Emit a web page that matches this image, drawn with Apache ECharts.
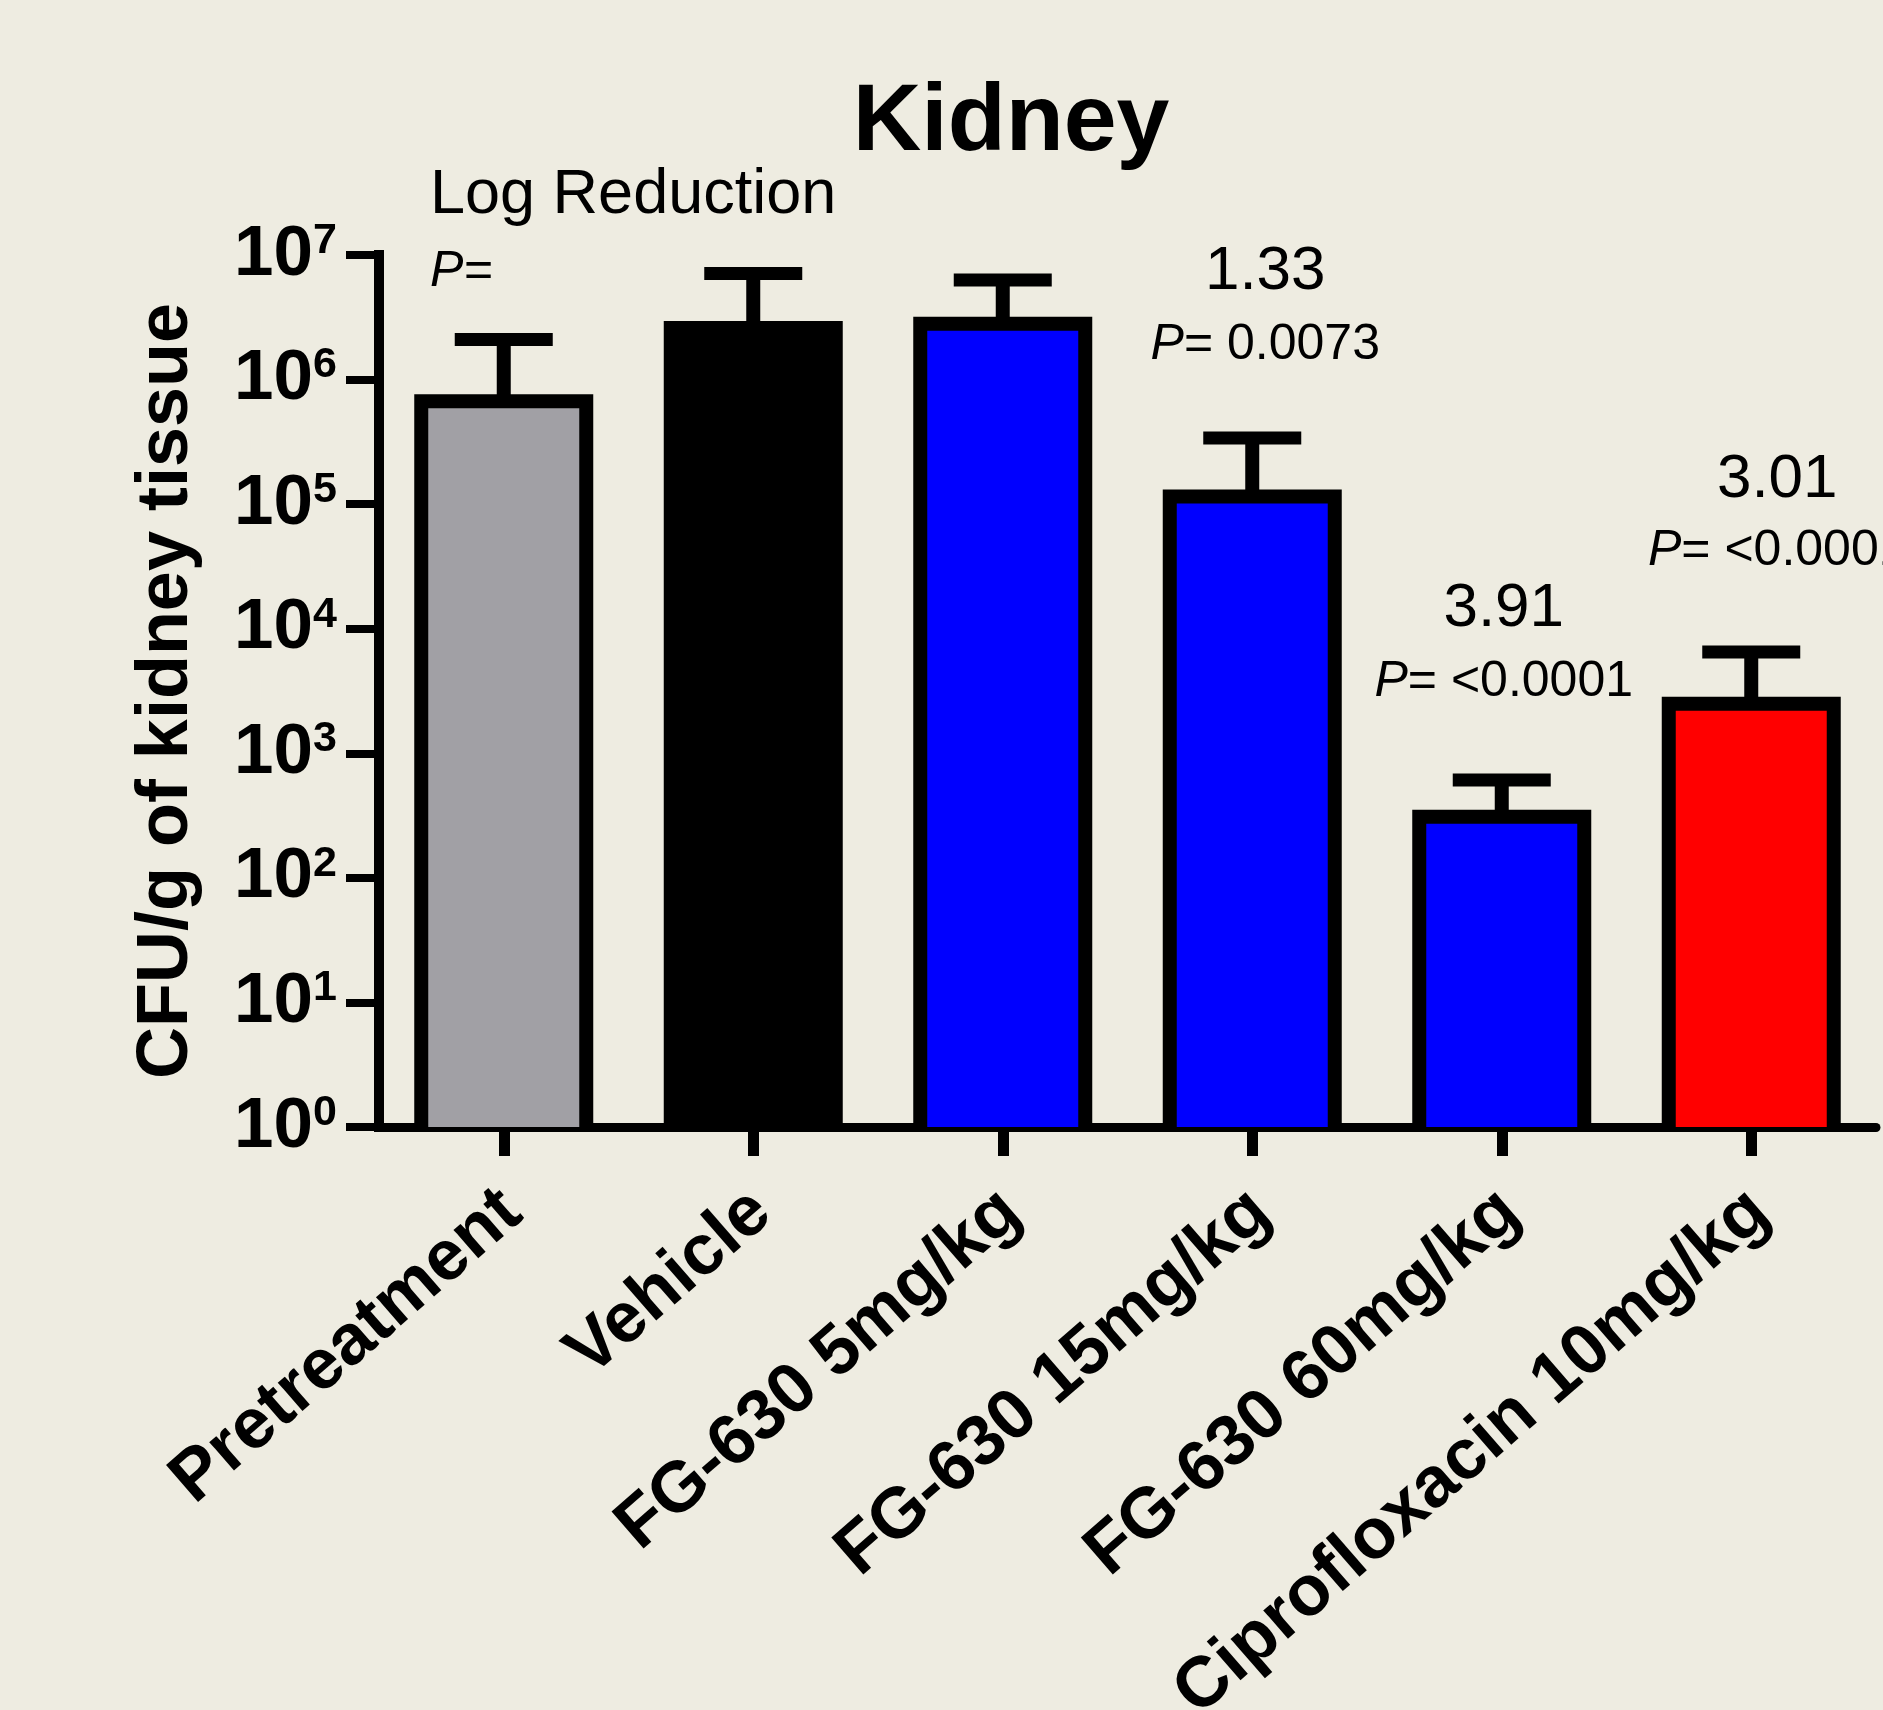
<!DOCTYPE html>
<html>
<head>
<meta charset="utf-8">
<script src="https://cdn.jsdelivr.net/npm/echarts@6/dist/echarts.min.js"></script>
<style>
html,body{margin:0;padding:0;background:#EEECE1;}
#c{width:1883px;height:1710px;}
</style>
</head>
<body>
<div id="c"></div>
<script>
// ---- data ----
const categories = ['Pretreatment', 'Vehicle', 'FG-630 5mg/kg', 'FG-630 15mg/kg', 'FG-630 60mg/kg', 'Ciprofloxacin 10mg/kg'];
const meanCFU = [6.7e5, 2.6e6, 2.8e6, 1.15e5, 310, 2500];
const upperCFU = [2.1e6, 7.1e6, 6.3e6, 3.4e5, 610, 6500];
const barColors = ['#A1A0A5', '#000000', '#0000FF', '#0000FF', '#0000FF', '#FF0000'];
const yTickExponents = [0, 1, 2, 3, 4, 5, 6, 7];
const logReduction = ['', '', '', '1.33', '3.91', '3.01'];
const pValues = ['', '', '', '0.0073', '<0.0001', '<0.0001'];
const titleText = 'Kidney';
const yAxisTitle = 'CFU/g of kidney tissue';
const headerText = 'Log Reduction';

// ---- layout ----
const FONT = '"Liberation Sans", Arial, Helvetica, sans-serif';
const BAR_W = 165, BORDER = 14, CAP_HALF = 49;
const annLayout = {
  dx: [0, 0, 0, 13, 2, 26],
  yLR: [0, 0, 0, 272, 609, 480],
  yP: [0, 0, 0, 345, 682, 551]
};

const chart = echarts.init(document.getElementById('c'), null, {renderer: 'canvas'});

const option = {
  backgroundColor: '#EEECE1',
  animation: false,
  grid: {left: 379, right: 7, top: 255, bottom: 583, containLabel: false, outerBoundsMode: 'none'},
  xAxis: {
    type: 'category',
    data: categories,
    boundaryGap: true,
    axisLine: {show: true, onZero: false, lineStyle: {color: '#000', width: 9}},
    axisTick: {show: true, alignWithLabel: true, length: 29, lineStyle: {color: '#000', width: 11}},
    axisLabel: {
      interval: 0, rotate: 41, margin: 66,
      formatter: function (v) { return '{t|' + v + '}'; },
      rich: {t: {padding: [26, 0, 0, 0], fontSize: 71, fontWeight: 'bold', color: '#000', fontFamily: FONT}},
      fontSize: 71, fontWeight: 'bold', color: '#000', fontFamily: FONT
    },
    splitLine: {show: false}
  },
  yAxis: {
    type: 'log',
    logBase: 10,
    min: Math.pow(10, yTickExponents[0]),
    max: Math.pow(10, yTickExponents[yTickExponents.length - 1]),
    splitNumber: yTickExponents.length - 1,
    name: yAxisTitle,
    nameLocation: 'middle',
    nameRotate: 90,
    nameGap: 176,
    nameTextStyle: {fontSize: 72, fontWeight: 'bold', color: '#000', fontFamily: FONT},
    axisLine: {show: true, lineStyle: {color: '#000', width: 10, cap: 'square'}},
    axisTick: {show: true, length: 33, lineStyle: {color: '#000', width: 8}},
    splitLine: {show: false},
    axisLabel: {
      margin: 42,
      showMinLabel: true,
      showMaxLabel: true,
      formatter: function (v) {
        return '{b|10}{s|' + Math.round(Math.log10(v)) + '}';
      },
      rich: {
        b: {fontSize: 71, fontWeight: 'bold', color: '#000', fontFamily: FONT, lineHeight: 71},
        s: {fontSize: 43, fontWeight: 'bold', color: '#000', fontFamily: FONT, lineHeight: 43, verticalAlign: 'top'}
      }
    }
  },
  series: [
    {
      type: 'custom',
      name: 'CFU',
      z: 2,
      data: categories.map(function (c, i) { return [i, meanCFU[i]]; }),
      encode: {x: 0, y: 1},
      renderItem: function (params, api) {
        const i = api.value(0);
        const top = api.coord([i, api.value(1)]);
        const base = api.coord([i, Math.pow(10, yTickExponents[0])]);
        const l = top[0] - BAR_W / 2, r = top[0] + BAR_W / 2;
        return {
          type: 'group',
          children: [
            {type: 'rect', shape: {x: l, y: top[1], width: BAR_W, height: base[1] - top[1]},
             style: {fill: barColors[params.dataIndex]}},
            {type: 'polyline', shape: {points: [[l, base[1]], [l, top[1]], [r, top[1]], [r, base[1]]]},
             style: {stroke: '#000', lineWidth: BORDER, fill: null, lineJoin: 'miter', lineCap: 'butt'}}
          ]
        };
      }
    },
    {
      type: 'custom',
      name: 'SD',
      z: 3,
      data: categories.map(function (c, i) { return [i, meanCFU[i], upperCFU[i]]; }),
      encode: {x: 0, y: [1, 2]},
      renderItem: function (params, api) {
        const i = api.value(0);
        const p0 = api.coord([i, api.value(1)]);
        const p1 = api.coord([i, api.value(2)]);
        return {
          type: 'group',
          children: [
            {type: 'line', shape: {x1: p0[0], y1: p0[1], x2: p0[0], y2: p1[1]}, style: {stroke: '#000', lineWidth: 14}},
            {type: 'line', shape: {x1: p0[0] - CAP_HALF, y1: p1[1], x2: p0[0] + CAP_HALF, y2: p1[1]}, style: {stroke: '#000', lineWidth: 13}}
          ]
        };
      }
    }
  ]
};

chart.setOption(option);

// ---- annotations ----
const graphics = [];
graphics.push({
  type: 'text', x: 1011, y: 124, z: 10,
  style: {text: titleText, fontSize: 95, fontWeight: 'bold', fill: '#000', fontFamily: FONT, align: 'center', verticalAlign: 'middle'}
});
graphics.push({
  type: 'text', x: 430, y: 196, z: 10,
  style: {text: headerText, fontSize: 63, fill: '#000', fontFamily: FONT, align: 'left', verticalAlign: 'middle'}
});
graphics.push({
  type: 'text', x: 430, y: 272, z: 10,
  style: {text: 'P=', fontSize: 50, fontStyle: 'italic', fill: '#000', fontFamily: FONT, align: 'left', verticalAlign: 'middle'}
});
categories.forEach(function (c, i) {
  if (!logReduction[i]) return;
  const cx = chart.convertToPixel({xAxisIndex: 0}, c) + annLayout.dx[i];
  graphics.push({
    type: 'text', x: cx, y: annLayout.yLR[i], z: 10,
    style: {text: logReduction[i], fontSize: 62, fill: '#000', fontFamily: FONT, align: 'center', verticalAlign: 'middle'}
  });
  graphics.push({
    type: 'text', x: cx, y: annLayout.yP[i], z: 10,
    style: {
      text: '{i|P}{n|= ' + pValues[i] + '}',
      align: 'center', verticalAlign: 'middle',
      rich: {
        i: {fontSize: 50, fontStyle: 'italic', fill: '#000', color: '#000', fontFamily: FONT},
        n: {fontSize: 50, fill: '#000', color: '#000', fontFamily: FONT}
      }
    }
  });
});
chart.setOption({graphic: graphics});
</script>
</body>
</html>
